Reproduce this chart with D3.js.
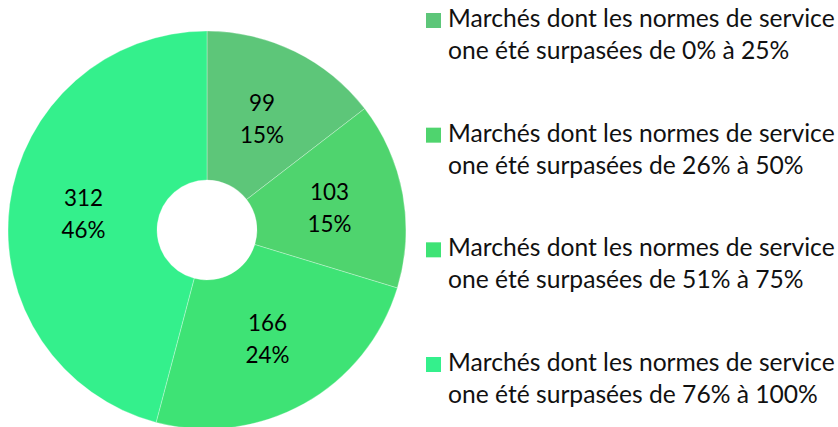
<!DOCTYPE html>
<html>
<head>
<meta charset="utf-8">
<script src="https://cdn.jsdelivr.net/npm/d3@7"></script>
<style>
  body { margin: 0; background: #fff; }
  svg { display: block; }
</style>
</head>
<body>
<script>
// data
const categories = [
    "Marchés dont les normes de service|one été surpasées de 0% à 25%",
    "Marchés dont les normes de service|one été surpasées de 26% à 50%",
    "Marchés dont les normes de service|one été surpasées de 51% à 75%",
    "Marchés dont les normes de service|one été surpasées de 76% à 100%"
];
const counts = [99, 103, 166, 312];
const percentLabels = ["15%", "15%", "24%", "46%"];
const colors = ["#5dc679", "#4fd46e", "#3ee375", "#34f08c"];

const width = 838, height = 427;
const cx = 207, cy = 230;
const outerR = 199, innerR = 50;
const fontFamily = "Lato, 'Open Sans', sans-serif";

const svg = d3.select("body").append("svg")
    .attr("width", width)
    .attr("height", height);

const pie = d3.pie().sort(null).value(d => d);
const arc = d3.arc().innerRadius(innerR).outerRadius(outerR);
const arcs = pie(counts);

const g = svg.append("g")
    .attr("transform", "translate(" + cx + "," + cy + ")");

g.selectAll("path.slice")
    .data(arcs)
    .join("path")
    .attr("class", "slice")
    .attr("d", arc)
    .attr("fill", (d, i) => colors[i])
    .attr("stroke", "#ffffff")
    .attr("stroke-opacity", 0.6)
    .attr("stroke-width", 0.5);

// helper: pick a font size so a sample string reaches a given width
function fitSize(sample, targetWidth) {
    const t = svg.append("text").style("font-family", fontFamily)
        .style("font-size", "100px").text(sample);
    const w = t.node().getComputedTextLength();
    t.remove();
    return 100 * targetWidth / w;
}

const labelSize = fitSize("15%", 44);
const legendSize = fitSize("Marchés dont les normes de service", 387);

// value + percent labels at the slice centroids
const labels = g.selectAll("text.lbl")
    .data(arcs)
    .join("text")
    .attr("class", "lbl")
    .attr("text-anchor", "middle")
    .style("font-family", fontFamily)
    .style("font-size", labelSize + "px")
    .style("fill", "#000");

labels.each(function(d, i) {
    const [x, y] = arc.centroid(d);
    const t = d3.select(this);
    t.append("tspan").attr("x", x).attr("y", y - 16)
        .attr("dominant-baseline", "central").text(counts[i]);
    t.append("tspan").attr("x", x).attr("y", y + 16)
        .attr("dominant-baseline", "central").text(percentLabels[i]);
});

// legend
const legendY = d3.scalePoint()
    .domain(d3.range(categories.length))
    .range([27, 371]);

const legend = svg.append("g").attr("class", "legend");

const items = legend.selectAll("g.item")
    .data(categories)
    .join("g")
    .attr("class", "item")
    .attr("transform", (d, i) => "translate(0," + legendY(i) + ")");

items.append("rect")
    .attr("x", 426)
    .attr("y", -14)
    .attr("width", 15)
    .attr("height", 15)
    .attr("fill", (d, i) => colors[i]);

items.append("text")
    .style("font-family", fontFamily)
    .style("font-size", legendSize + "px")
    .style("fill", "#111")
    .each(function(d) {
        const lines = d.split("|");
        const t = d3.select(this);
        lines.forEach((line, j) => {
            t.append("tspan").attr("x", 448).attr("y", j * 32).text(line);
        });
    });
</script>
</body>
</html>
